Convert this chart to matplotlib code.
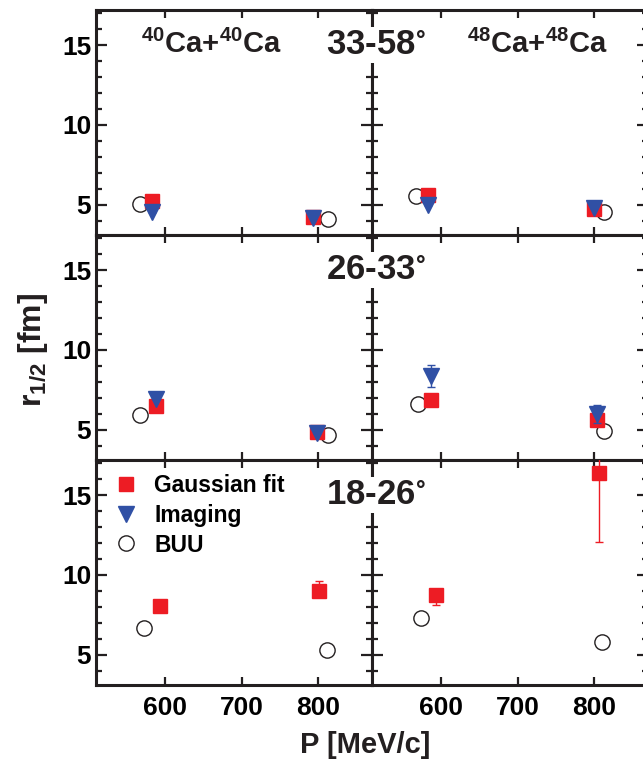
import numpy as np
import matplotlib
matplotlib.use("Agg")
import matplotlib.pyplot as plt
from matplotlib.ticker import MultipleLocator, FixedLocator
from matplotlib.lines import Line2D

plt.rcParams['font.family'] = ['Liberation Sans', 'DejaVu Sans']
plt.rcParams['font.weight'] = 'bold'
plt.rcParams['mathtext.default'] = 'regular'

# data
angles = ["33-58$^{\\circ}$", "26-33$^{\\circ}$", "18-26$^{\\circ}$"]
systems = ["$^{40}$Ca+$^{40}$Ca", "$^{48}$Ca+$^{48}$Ca"]

# gaussian fit  [system][row] -> (x, y)
gauss_x = [[[583.5, 793.5], [588, 798], [593.5, 801]],
           [[582.6, 799], [587, 804], [594, 805.5]]]
gauss_y = [[[5.22, 4.21], [6.5, 4.88], [8.08, 8.98]],
           [[5.62, 4.75], [6.86, 5.61], [8.73, 16.36]]]
gauss_elo = [[[0, 0], [0, 0], [0.0, 0.3]],
             [[0, 0], [0, 0], [0.6, 4.3]]]
gauss_ehi = [[[0, 0], [0, 0], [0.0, 0.66]],
             [[0, 0], [0, 0], [0.2, 1.0]]]

# imaging
img_x = [[[583.5, 793.5], [588, 798], [np.nan, np.nan]],
         [[582.6, 799], [587, 804], [np.nan, np.nan]]]
img_y = [[[4.55, 4.15], [6.92, 4.8], [np.nan, np.nan]],
         [[5.0, 4.8], [8.38, 5.98], [np.nan, np.nan]]]
img_err = [[[0, 0], [0, 0], [0, 0]],
           [[0, 0], [0.68, 0.58], [0, 0]]]

# BUU
buu_x = [[[567, 813], [568, 813], [572.6, 811.7]],
         [[567.4, 813], [569.5, 812], [573.4, 810]]]
buu_y = [[[5.06, 4.12], [5.94, 4.69], [6.69, 5.31]],
         [[5.52, 4.52], [6.6, 4.94], [7.31, 5.79]]]

red = '#ED1C24'
blue = '#3050A5'
ink = '#231f20'

W, H = 643, 762
fig = plt.figure(figsize=(W / 100, H / 100), dpi=100)

left = 96 / W
pw = 276 / W
ph = 225 / H
top = 1 - 10 / H

axes = []
for r in range(3):
    row = []
    for c in range(2):
        ax = fig.add_axes([left + c * pw, top - (r + 1) * ph, pw, ph])
        ax.set_xlim(510, 870)
        ax.set_ylim(3.1, 17.2)
        ax.xaxis.set_major_locator(FixedLocator([600, 700, 800]))
        ax.yaxis.set_major_locator(FixedLocator([5, 10, 15]))
        ax.yaxis.set_minor_locator(MultipleLocator(1))
        ax.tick_params(which='both', direction='in', top=True, right=True,
                       width=1.6, labelsize=19, color=ink)
        ax.tick_params(which='major', axis='y', length=8)
        ax.tick_params(which='minor', axis='y', length=4)
        ax.tick_params(which='major', axis='x', length=6)
        ax.tick_params(axis='x', pad=8)
        for s in ax.spines.values():
            s.set_linewidth(2.2)
            s.set_color(ink)
        if c == 1:
            ax.set_yticklabels([])
        if r < 2:
            ax.set_xticklabels([])

        gx = np.array(gauss_x[c][r])
        gy = np.array(gauss_y[c][r])
        ax.plot(buu_x[c][r], buu_y[c][r], 'o', ms=11, mfc='none',
                mec=ink, mew=1.0, zorder=2)
        ax.errorbar(gx, gy, yerr=[gauss_elo[c][r], gauss_ehi[c][r]],
                    fmt='s', ms=10, color=red, ecolor=red, elinewidth=1,
                    capsize=3, capthick=1, zorder=3)
        ax.errorbar(img_x[c][r], img_y[c][r], yerr=img_err[c][r],
                    fmt='v', ms=11, color=blue, ecolor=blue, elinewidth=1,
                    capsize=3, capthick=1, zorder=4)
        row.append(ax)
    axes.append(row)

# angle labels sit on top of the divider line
for r in range(3):
    fig.text(1.015, 0.845, angles[r], transform=axes[r][0].transAxes,
             ha='center', va='center', fontsize=25, fontweight='bold',
             color=ink, zorder=10,
             bbox=dict(facecolor='white', edgecolor='none', pad=1))

# system labels
axes[0][0].text(0.42, 0.845, systems[0], transform=axes[0][0].transAxes,
                ha='center', va='center', fontsize=21, color=ink)
axes[0][1].text(0.6, 0.845, systems[1], transform=axes[0][1].transAxes,
                ha='center', va='center', fontsize=21, color=ink)

# legend
handles = [Line2D([], [], ls='none', marker='s', ms=10, color=red),
           Line2D([], [], ls='none', marker='v', ms=11, color=blue),
           Line2D([], [], ls='none', marker='o', ms=11, mfc='none',
                  mec=ink, mew=1.0)]
axes[2][0].legend(handles, ['Gaussian fit', 'Imaging', 'BUU'],
                  loc='upper left', frameon=False, fontsize=16.5,
                  handletextpad=0.55, labelspacing=0.3, borderaxespad=0.2,
                  handlelength=1.4, bbox_to_anchor=(0.0, 1.0))

fig.text(left + pw - 0.01, 0.004, 'P [MeV/c]', ha='center', va='bottom',
         fontsize=21, color=ink)
fig.text(0.052, 1 - 350 / H, 'r$_{1/2}$ [fm]', rotation=90, ha='center',
         va='center', fontsize=23, color=ink)

fig.savefig('out.png', dpi=100)
